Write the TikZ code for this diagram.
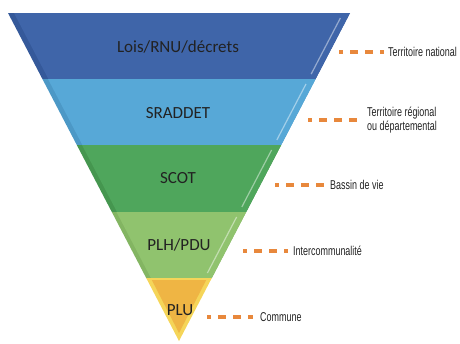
\documentclass[tikz,border=0pt]{standalone}
\usepackage{fontspec}
\setmainfont{Carlito}
\newfontfamily\narrowfont[FakeStretch=0.7]{Liberation Sans}
\definecolor{loisblue}{HTML}{3F65A9}
\definecolor{loisdark}{HTML}{35599A}
\definecolor{sraddetblue}{HTML}{57A8D7}
\definecolor{sraddetdark}{HTML}{4C98C6}
\definecolor{scotgreen}{HTML}{4FA65C}
\definecolor{scotdark}{HTML}{45964F}
\definecolor{plhgreen}{HTML}{90C36E}
\definecolor{plhdark}{HTML}{83B562}
\definecolor{pluorange}{HTML}{EFB544}
\definecolor{pluyellow}{HTML}{F5D559}
\definecolor{leaderorange}{HTML}{E8883C}
\definecolor{textgray}{HTML}{222222}

\begin{document}
\begin{tikzpicture}[x=1pt,y=-1pt,
	level/.style={font=\fontsize{17}{20}\selectfont, text=textgray},
	scalelabel/.style={font=\narrowfont\fontsize{12.8}{13.5}\selectfont, text=textgray, anchor=west, align=left, inner sep=0pt},
	leader/.style={draw=leaderorange, line width=4pt, dash pattern=on 8pt off 7pt, dash phase=4pt},
	shine/.style={draw=white, draw opacity=0.45, line width=1.2pt}]
				\useasboundingbox (0,0) rectangle (460,343);
				
				\fill[loisdark] (8,13) -- (350,13) -- (315.6,79) -- (42.4,79) -- cycle;
				\fill[loisblue] (14,13) -- (350,13) -- (315.6,79) -- (48.4,79) -- cycle;
				\draw[shine] (340.4,18) -- (311.2,74);
				
				\fill[sraddetdark] (42.4,79) -- (315.6,79) -- (281.2,145) -- (76.8,145) -- cycle;
				\fill[sraddetblue] (48,79) -- (315.6,79) -- (281.2,145) -- (82.4,145) -- cycle;
				\draw[shine] (306,84) -- (276.8,140);
				
				\fill[scotdark] (76.8,145) -- (281.2,145) -- (246.2,212) -- (111.8,212) -- cycle;
				\fill[scotgreen] (82,145) -- (281.2,145) -- (246.2,212) -- (117,212) -- cycle;
				\draw[shine] (271.6,150) -- (241.8,207);
				
				\fill[plhdark] (111.8,212) -- (246.2,212) -- (211.8,278) -- (146.2,278) -- cycle;
				\fill[plhgreen] (116.5,212) -- (246.2,212) -- (211.8,278) -- (150.9,278) -- cycle;
				\draw[shine] (236.6,217) -- (207.4,273);
				
				\fill[pluyellow] (146.2,278) -- (211.8,278) -- (179,341) -- cycle;
				\fill[pluorange] (151.8,280) -- (206.2,280) -- (179,333) -- cycle;
				
				\node[level] (lois) at (178,47) {Lois/RNU/décrets};
				\node[level] (sraddet) at (178,113) {SRADDET};
				\node[level] (scot) at (178,178) {SCOT};
				\node[level] (plh) at (179,245) {PLH/PDU};
				\node[level] (plu) at (180,310) {PLU};
				
				\node[scalelabel] (national) at (388,52) {Territoire national};
				\node[scalelabel] (regional) at (367,120) {Territoire régional\\ou départemental};
				\node[scalelabel] (bassin) at (330,185) {Bassin de vie};
				\node[scalelabel] (interco) at (293,251) {Intercommunalité};
				\node[scalelabel] (commune) at (260,317) {Commune};
				
				\coordinate (nationalstart) at (339,52);
				\coordinate (regionalstart) at (308,120);
				\coordinate (bassinstart) at (275,185);
				\coordinate (intercostart) at (243,251);
				\coordinate (communestart) at (207,317);
				
				\draw[leader] (nationalstart) -- ([xshift=-4pt]national.west);
				\draw[leader] (regionalstart) -- ([xshift=-8pt]regional.west);
				\draw[leader] (bassinstart) -- ([xshift=-6pt]bassin.west);
				\draw[leader] (intercostart) -- ([xshift=-5pt]interco.west);
				\draw[leader] (communestart) -- ([xshift=-7pt]commune.west);
\end{tikzpicture}
\end{document}
